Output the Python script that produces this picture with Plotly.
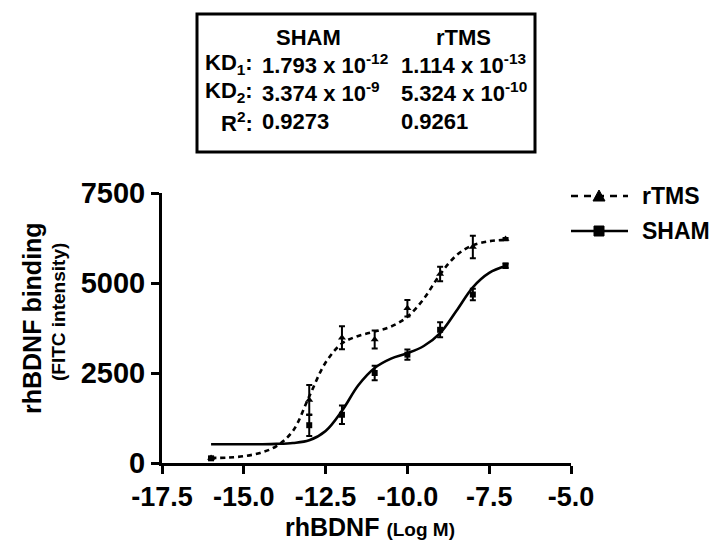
import plotly.graph_objects as go

# ---------------- data ----------------
conc_log = [-16, -13, -12, -11, -10, -9, -8, -7]
rtms_mean = [140, 1750, 3480, 3430, 4300, 5250, 6000, 6220]
rtms_err = [30, 420, 320, 250, 230, 200, 310, 30]
sham_mean = [130, 1050, 1340, 2500, 3010, 3700, 4680, 5480]
sham_err = [30, 300, 260, 200, 140, 210, 160, 60]

fit_x = [-16, -15.5, -15, -14.5, -14, -13.5, -13, -12.5, -12, -11.5, -11,
         -10.5, -10, -9.5, -9, -8.5, -8, -7.5, -7]
rtms_fit = [140, 150, 190, 280, 470, 890, 1850, 2790, 3320, 3530, 3650,
            3790, 4060, 4560, 5240, 5770, 6050, 6160, 6200]
sham_fit = [520, 520, 520, 522, 530, 555, 630, 890, 1450, 2160, 2640,
            2900, 3050, 3250, 3610, 4230, 4880, 5280, 5470]

x_ticks = [-17.5, -15.0, -12.5, -10.0, -7.5, -5.0]
x_ticktext = ["-17.5", "-15.0", "-12.5", "-10.0", "-7.5", "-5.0"]
y_ticks = [0, 2500, 5000, 7500]
y_ticktext = ["0", "2500", "5000", "7500"]

table_header = ["SHAM", "rTMS"]
table_rows = ["KD<sub>1</sub>:", "KD<sub>2</sub>:", "R<sup>2</sup>:"]
table_sham = ["1.793 x 10<sup>-12</sup>", "3.374 x 10<sup>-9</sup>", "0.9273"]
table_rtms = ["1.114 x 10<sup>-13</sup>", "5.324 x 10<sup>-10</sup>", "0.9261"]
legend_names = ["rTMS", "SHAM"]

# ---------------- layout geometry (pixels) ----------------
W, H = 720, 541
L, R, T, B = 154, 563, 185, 455
FONT = "Liberation Sans, Arial, Helvetica, sans-serif"


def px(xp):
    return (xp - L) / (R - L)


def py(yp):
    return (B - yp) / (B - T)


fig = go.Figure()

# fitted curves
fig.add_trace(go.Scatter(x=fit_x, y=rtms_fit, mode="lines", line_shape="spline",
                         line=dict(color="black", width=2.6, dash="5px,4px"),
                         showlegend=False, hoverinfo="skip"))
fig.add_trace(go.Scatter(x=fit_x, y=sham_fit, mode="lines", line_shape="spline",
                         line=dict(color="black", width=2.6),
                         showlegend=False, hoverinfo="skip"))
# data points
fig.add_trace(go.Scatter(x=conc_log, y=rtms_mean, mode="markers", name="rTMS",
                         marker=dict(symbol="triangle-up", size=7, color="black"),
                         error_y=dict(type="data", array=rtms_err, color="black",
                                      thickness=2, width=3),
                         showlegend=False))
fig.add_trace(go.Scatter(x=conc_log, y=sham_mean, mode="markers", name="SHAM",
                         marker=dict(symbol="square", size=6, color="black"),
                         error_y=dict(type="data", array=sham_err, color="black",
                                      thickness=2, width=3),
                         showlegend=False))

shapes = []
annotations = []
BOXFONT = 22

# parameter box
shapes.append(dict(type="rect", xref="paper", yref="paper",
                   x0=px(189), x1=px(527), y0=py(144), y1=py(6),
                   line=dict(color="black", width=3), fillcolor="white"))
hdr_x = [300, 455]
for txt, xc in zip(table_header, hdr_x):
    annotations.append(dict(text="<b>" + txt + "</b>", x=px(xc), y=py(29),
                            xref="paper", yref="paper", xanchor="center",
                            yanchor="middle", showarrow=False,
                            font=dict(family=FONT, size=BOXFONT, color="black")))
row_y = [56, 84, 114]
for lab, s, r, yy in zip(table_rows, table_sham, table_rtms, row_y):
    annotations.append(dict(text="<b>" + lab + "</b>", x=px(247), y=py(yy),
                            xref="paper", yref="paper", xanchor="right",
                            yanchor="middle", showarrow=False,
                            font=dict(family=FONT, size=BOXFONT, color="black")))
    annotations.append(dict(text="<b>" + s + "</b>", x=px(252), y=py(yy),
                            xref="paper", yref="paper", xanchor="left",
                            yanchor="middle", showarrow=False,
                            font=dict(family=FONT, size=BOXFONT, color="black")))
    annotations.append(dict(text="<b>" + r + "</b>", x=px(391), y=py(yy),
                            xref="paper", yref="paper", xanchor="left",
                            yanchor="middle", showarrow=False,
                            font=dict(family=FONT, size=BOXFONT, color="black")))

# legend (drawn manually)
leg_y = [188, 223]
x0l, x1l, xm = 563, 620, 591
# rTMS: dashed line + triangle
shapes.append(dict(type="line", xref="paper", yref="paper",
                   x0=px(x0l), x1=px(x1l), y0=py(leg_y[0]), y1=py(leg_y[0]),
                   line=dict(color="black", width=2.6, dash="7px,6px")))
shapes.append(dict(type="path", xref="paper", yref="paper",
                   path="M {} {} L {} {} L {} {} Z".format(
                       px(xm - 6), py(leg_y[0] + 5), px(xm + 6), py(leg_y[0] + 5),
                       px(xm), py(leg_y[0] - 6)),
                   fillcolor="black", line=dict(color="black", width=1)))
# SHAM: solid line + square
shapes.append(dict(type="line", xref="paper", yref="paper",
                   x0=px(x0l), x1=px(x1l), y0=py(leg_y[1]), y1=py(leg_y[1]),
                   line=dict(color="black", width=2.6)))
shapes.append(dict(type="rect", xref="paper", yref="paper",
                   x0=px(xm - 5), x1=px(xm + 5), y0=py(leg_y[1] + 5),
                   y1=py(leg_y[1] - 5), fillcolor="black",
                   line=dict(color="black", width=1)))
for name, yy in zip(legend_names, leg_y):
    annotations.append(dict(text="<b>" + name + "</b>", x=px(632), y=py(yy),
                            xref="paper", yref="paper", xanchor="left",
                            yanchor="middle", showarrow=False,
                            font=dict(family=FONT, size=23, color="black")))

# axis titles
annotations.append(dict(text="<b>rhBDNF binding</b>", x=px(24), y=py(310),
                        xref="paper", yref="paper", xanchor="center",
                        yanchor="middle", textangle=-90, showarrow=False,
                        font=dict(family=FONT, size=25, color="black")))
annotations.append(dict(text="<b>(FITC intensity)</b>", x=px(50), y=py(304),
                        xref="paper", yref="paper", xanchor="center",
                        yanchor="middle", textangle=-90, showarrow=False,
                        font=dict(family=FONT, size=19, color="black")))
annotations.append(dict(text="<b>rhBDNF <span style='font-size:19px'>(Log M)</span></b>",
                        x=px(362), y=py(519),
                        xref="paper", yref="paper", xanchor="center",
                        yanchor="middle", showarrow=False,
                        font=dict(family=FONT, size=25, color="black")))

fig.update_layout(
    width=W, height=H,
    margin=dict(l=L, r=W - R, t=T, b=H - B, pad=0),
    paper_bgcolor="white", plot_bgcolor="white",
    showlegend=False,
    shapes=shapes, annotations=annotations,
    xaxis=dict(range=[-17.5, -5.0], tickvals=x_ticks, ticktext=x_ticktext,
               showgrid=False, zeroline=False, showline=True,
               linecolor="black", linewidth=3, ticks="outside", ticklen=8,
               tickwidth=3, tickcolor="black",
               tickfont=dict(family=FONT, size=27, color="black", weight="bold")),
    yaxis=dict(range=[0, 7500], tickvals=y_ticks, ticktext=y_ticktext,
               showgrid=False, zeroline=False, showline=True,
               linecolor="black", linewidth=3, ticks="outside", ticklen=8,
               tickwidth=3, tickcolor="black",
               tickfont=dict(family=FONT, size=29, color="black", weight="bold")),
)

fig.write_html("out.html")
